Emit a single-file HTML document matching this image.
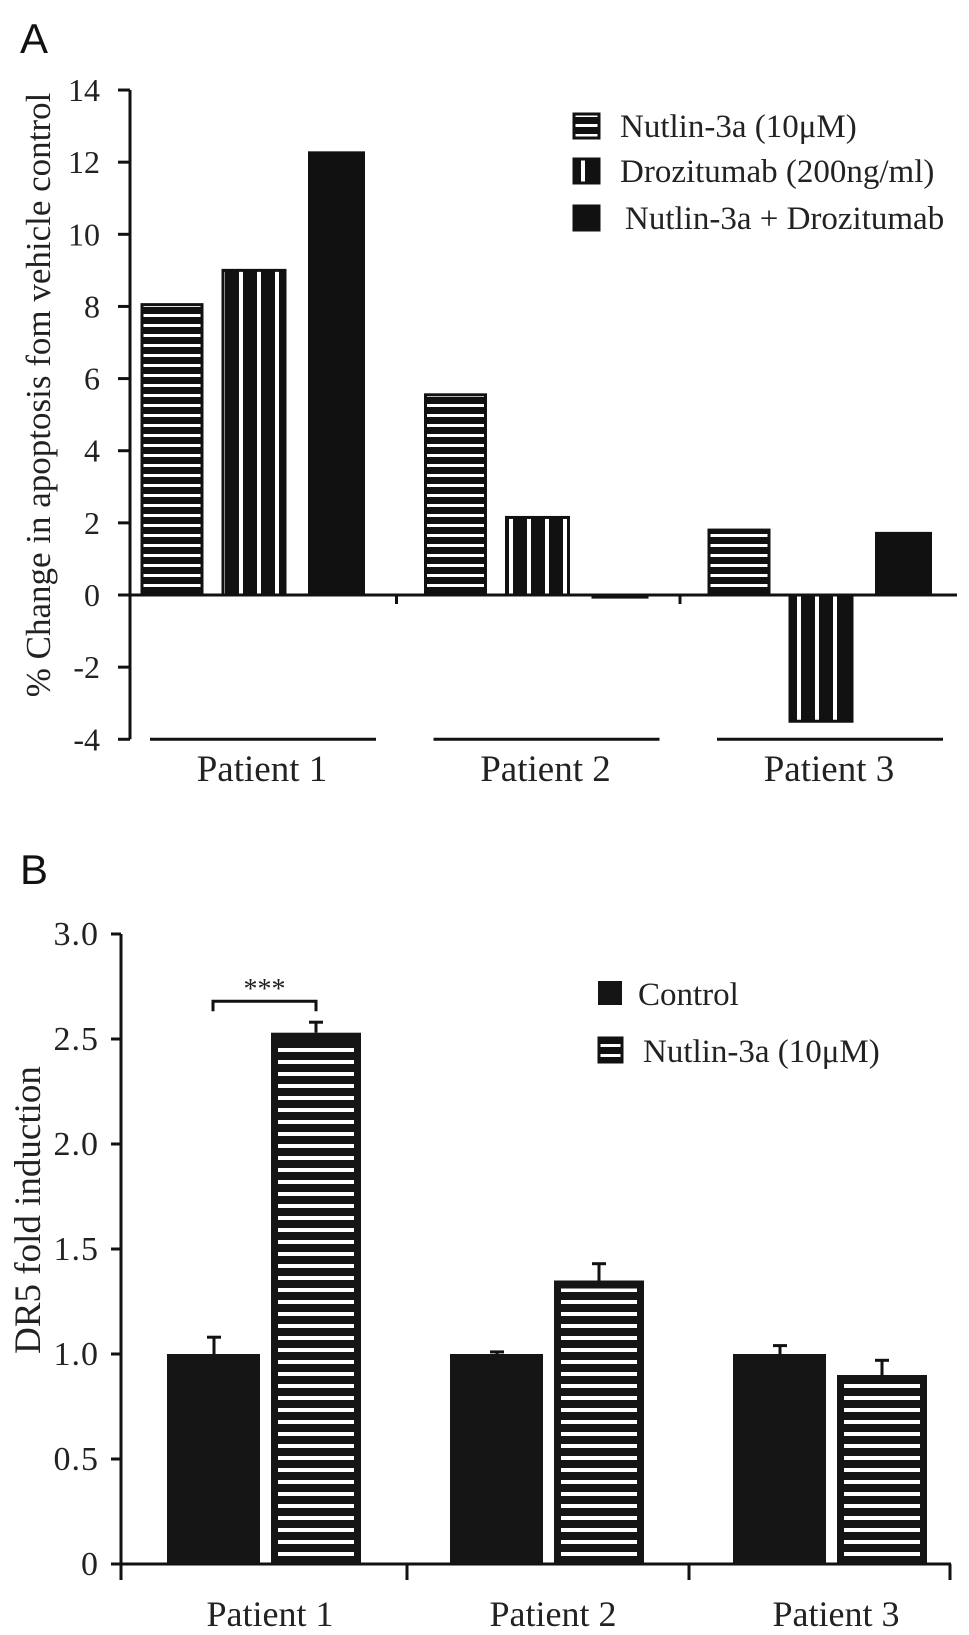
<!DOCTYPE html>
<html><head><meta charset="utf-8"><style>
html,body{margin:0;padding:0;background:#fff;}
svg{display:block;font-family:"Liberation Serif",serif;}
.lab{font-family:"Liberation Sans",sans-serif;}
</style></head><body>
<svg id="fig" width="969" height="1635" viewBox="0 0 969 1635" xmlns="http://www.w3.org/2000/svg">
<defs>
<pattern id="hstripeA" patternUnits="userSpaceOnUse" width="10" height="10"><rect width="10" height="10" fill="#111"/><rect y="4" width="10" height="3" fill="#fff"/></pattern>
<pattern id="vstripeA" patternUnits="userSpaceOnUse" width="18" height="10"><rect width="18" height="10" fill="#111"/><rect x="5" width="4" height="10" fill="#fff"/></pattern>
<pattern id="hstripeB" patternUnits="userSpaceOnUse" width="10" height="12"><rect width="10" height="12" fill="#151515"/><rect y="4" width="10" height="4" fill="#fff"/></pattern>
</defs>
<text class="lab" x="20" y="53" font-size="42" fill="#111">A</text>
<text class="lab" x="20" y="884" font-size="42" fill="#111">B</text>
<g id="chartA"></g>
<g id="chartB"></g>
</svg>
<script>
// ---- Panel A data ----
const catsA = ["Patient 1","Patient 2","Patient 3"];
const nutlinA = [8.05, 5.55, 1.8];
const drozA = [9.0, 2.15, -3.5];
const comboA = [12.3, -0.1, 1.75];
const ticksA = [14,12,10,8,6,4,2,0,-2,-4];
// ---- Panel B data ----
const catsB = ["Patient 1","Patient 2","Patient 3"];
const controlB = [1.0, 1.0, 1.0];
const controlErrB = [0.08, 0.01, 0.04];
const nutlinB = [2.53, 1.35, 0.9];
const nutlinErrB = [0.05, 0.08, 0.07];
const ticksB = ["3.0","2.5","2.0","1.5","1.0","0.5","0"];

const NS="http://www.w3.org/2000/svg";
function mk(parent,tag,attrs,text){const e=document.createElementNS(NS,tag);for(const k in attrs)e.setAttribute(k,attrs[k]);if(text!==undefined)e.textContent=text;parent.appendChild(e);return e;}

// ===== Panel A =====
(function(){
const g=document.getElementById('chartA');
const yA=v=>595-36.07*v;
const x0=130, xEnd=957, period=283.5;
const offs=[12,93,178], bw=[60,62,57];
let e=mk(g,'line',{x1:x0,y1:yA(14),x2:x0,y2:yA(-4),stroke:'#111','stroke-width':3});


ticksA.forEach(t=>{
 let tk=mk(g,'line',{x1:x0-12,y1:yA(t),x2:x0,y2:yA(t),stroke:'#111','stroke-width':3});
 
 
 let tl=mk(g,'text',{x:x0-30,y:yA(t)+11,'font-size':32,'text-anchor':'end',fill:'#222'},String(t));
 
 
});
e=mk(g,'line',{x1:x0,y1:yA(0),x2:xEnd,y2:yA(0),stroke:'#111','stroke-width':3});


[1,2].forEach(i=>{
 let tk=mk(g,'line',{x1:x0+period*i-17,y1:yA(0),x2:x0+period*i-17,y2:yA(0)+9,stroke:'#111','stroke-width':3});
 
 
});
const series=[[nutlinA,'url(#hstripeA)','bar-nutlin'],[drozA,'url(#vstripeA)','bar-drozitumab'],[comboA,'#111','bar-combo']];
catsA.forEach((c,i)=>{
 const gx=x0+period*i;
 series.forEach((s,j)=>{
  const v=s[0][i];const bx=gx+offs[j];
  const top=Math.min(yA(v),yA(0)), h=Math.max(Math.abs(yA(v)-yA(0)),2);
  let r=mk(g,'rect',{x:bx,y:top,width:bw[j],height:h,fill:s[1],stroke:'#111','stroke-width':j<2?3:0});
  
  
 });
 let ln=mk(g,'line',{x1:gx+20,y1:yA(-4),x2:gx+246,y2:yA(-4),stroke:'#111','stroke-width':3});
 
 
 let tl=mk(g,'text',{x:gx+132,y:781,'font-size':37,'text-anchor':'middle',fill:'#222'},c);
 
 
});
e=mk(g,'text',{x:0,y:0,'font-size':35,'text-anchor':'middle',fill:'#222',transform:'translate(50,395) rotate(-90)'},'% Change in apoptosis fom vehicle control');


const leg=[['url(#hstripeA)','Nutlin-3a (10\u03bcM)',126,620],['url(#vstripeA)','Drozitumab (200ng/ml)',171,620],['#111','Nutlin-3a + Drozitumab',218,625]];
leg.forEach(l=>{
 let sw=mk(g,'rect',{x:574,y:l[2]-12,width:25,height:24,fill:l[0],stroke:'#111','stroke-width':3});
 
 
 let t=mk(g,'text',{x:l[3],y:l[2]+11,'font-size':33,fill:'#222'},l[1]);
 
 
});
})();

// ===== Panel B =====
(function(){
const g=document.getElementById('chartB');
const yB=v=>1564-210*v;
const x0=121, xEnd=951, period=283;
let e=mk(g,'line',{x1:x0,y1:yB(3),x2:x0,y2:yB(0)+16,stroke:'#111','stroke-width':3});


ticksB.forEach(t=>{
 const v=parseFloat(t);
 let tk=mk(g,'line',{x1:x0-10,y1:yB(v),x2:x0,y2:yB(v),stroke:'#111','stroke-width':3});
 
 
 let tl=mk(g,'text',{x:x0-22,y:yB(v)+11,'font-size':34,'text-anchor':'end',fill:'#222','letter-spacing':1},t);
 
 
});
e=mk(g,'line',{x1:x0,y1:yB(0),x2:xEnd,y2:yB(0),stroke:'#111','stroke-width':3});


[1,2,3].forEach(i=>{
 const tx=i<3?x0+period*i-(i===1?-3:-2):xEnd-1;
 let tk=mk(g,'line',{x1:tx,y1:yB(0),x2:tx,y2:yB(0)+16,stroke:'#111','stroke-width':3});
 
 
});
catsB.forEach((c,i)=>{
 const gx=x0+period*i;
 const cv=controlB[i], ce=controlErrB[i];
 let el=mk(g,'line',{x1:gx+93,y1:yB(cv),x2:gx+93,y2:yB(cv+ce),stroke:'#111','stroke-width':3});
 
 
 el=mk(g,'line',{x1:gx+86,y1:yB(cv+ce),x2:gx+100,y2:yB(cv+ce),stroke:'#111','stroke-width':3});
 
 
 let r=mk(g,'rect',{x:gx+46,y:yB(cv),width:93,height:yB(0)-yB(cv),fill:'#151515'});
 
 
 const nv=nutlinB[i], ne=nutlinErrB[i];
 el=mk(g,'line',{x1:gx+195,y1:yB(nv),x2:gx+195,y2:yB(nv+ne),stroke:'#111','stroke-width':3});
 
 
 el=mk(g,'line',{x1:gx+188,y1:yB(nv+ne),x2:gx+202,y2:yB(nv+ne),stroke:'#111','stroke-width':3});
 
 
 r=mk(g,'rect',{x:gx+150,y:yB(nv),width:90,height:yB(0)-yB(nv),fill:'#151515'});
 
 
 r=mk(g,'rect',{x:gx+157,y:yB(nv)+8,width:76,height:yB(0)-yB(nv)-12,fill:'url(#hstripeB)'});
 
 
 let tl=mk(g,'text',{x:gx+149,y:1626,'font-size':36,'text-anchor':'middle',fill:'#222'},c);
 
 
});
const bl=x0+92, br=x0+195, by=yB(Math.max(nutlinB[0]+nutlinErrB[0],controlB[0]+controlErrB[0])+0.1);
e=mk(g,'path',{d:`M${bl} ${by+10} V${by} H${br} V${by+10}`,fill:'none',stroke:'#111','stroke-width':3});


e=mk(g,'text',{x:(bl+br)/2,y:by-3,'font-size':28,'text-anchor':'middle',fill:'#222'},'***');


e=mk(g,'text',{x:0,y:0,'font-size':37,'text-anchor':'middle',fill:'#222',transform:'translate(40,1210) rotate(-90)'},'DR5 fold induction');


let sw=mk(g,'rect',{x:598,y:981,width:24,height:24,fill:'#151515'});


let t=mk(g,'text',{x:638,y:1005,'font-size':33,fill:'#222'},'Control');


sw=mk(g,'rect',{x:599,y:1038,width:23,height:24,fill:'url(#hstripeA)',stroke:'#111','stroke-width':3});


t=mk(g,'text',{x:643,y:1062,'font-size':33,fill:'#222'},'Nutlin-3a (10\u03bcM)');


})();
</script>
</body></html>
